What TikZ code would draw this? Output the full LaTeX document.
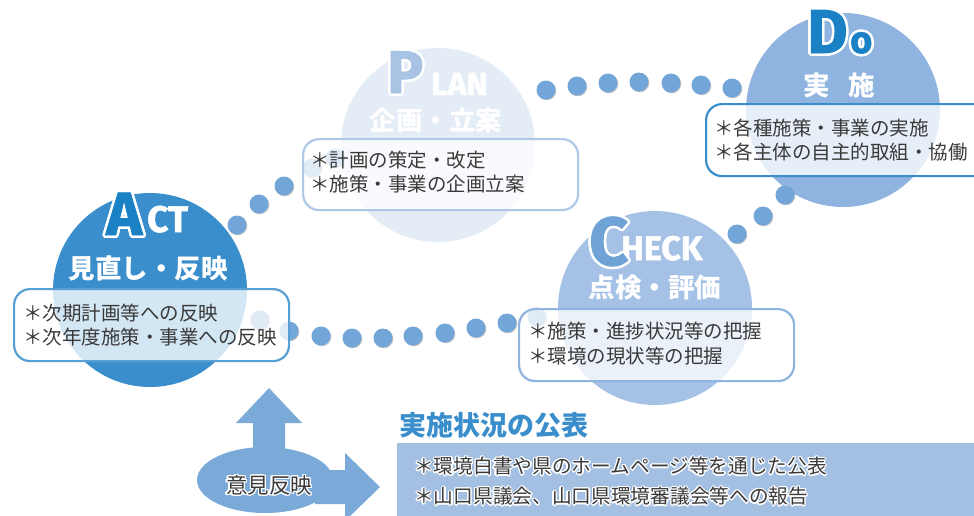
\documentclass[tikz,border=0pt]{standalone}
\usepackage{fontspec}
\usepackage{contour}
\usetikzlibrary{shapes.geometric,shadows}
\newfontfamily\jp{Noto Sans CJK JP}
\newfontfamily\heavy[BoldFeatures={FakeBold=1.5}]{Fira Sans}
\newfontfamily\heavylite{Fira Sans}
\contournumber{16}
\definecolor{actblue}{HTML}{3A8ECC}
\definecolor{letterblue}{HTML}{1A82C4}
\definecolor{doblue}{HTML}{8FB4E0}
\definecolor{checkblue}{HTML}{A5C2E6}
\definecolor{planlight}{HTML}{E4ECF6}
\definecolor{planletter}{HTML}{A9C3E5}
\definecolor{planborder}{HTML}{AFC8E8}
\definecolor{dotblue}{HTML}{72A6D8}
\definecolor{arrowblue}{HTML}{7BAAD9}
\definecolor{checkletter}{HTML}{6FA3D6}
\definecolor{pubblue}{HTML}{A3C0E3}
\definecolor{textgray}{HTML}{3A3A3A}
\begin{document}
\begin{tikzpicture}[x=1pt,y=-1pt,
  phase/.style={circle, minimum size=194pt, inner sep=0pt, draw=none},
  infobox/.style={rectangle, rounded corners=16pt, line width=2.2pt, fill=white, fill opacity=0.78, inner sep=0pt, anchor=north west},
  boxtext/.style={anchor=west, align=left, inner sep=0pt, text=textgray, font=\jp\fontsize{19.5}{24.5}\selectfont},
  phasetitle/.style={inner sep=0pt, text=white, font=\jp\bfseries\fontsize{26.5}{27}\selectfont},
  bigletter/.style={anchor=base west, inner sep=0pt},
  smallletter/.style={anchor=base west, inner sep=0pt, text=white},
  dotnode/.style={circle, fill=dotblue, minimum size=19pt, inner sep=0pt,
     drop shadow={shadow xshift=0.8pt, shadow yshift=-0.8pt, opacity=0.45, fill=gray}},
  arrowshape/.style={fill=arrowblue, draw=none},
]
\useasboundingbox (0,0) rectangle (974,515);
\clip (0,0) rectangle (974,515);
\fill[white] (0,0) rectangle (974,515);

% phase circles
\node[phase, fill=planlight] (plan) at (438,145) {};
\node[phase, fill=doblue] (do) at (843,110) {};
\node[phase, fill=actblue] (act) at (150,290) {};
\node[phase, fill=checkblue] (check) at (655,308) {};

% dotted cycle
\foreach \p [count=\i] in {(237,225),(259,204),(284,186),(312,168),(335,158)}
  \node[dotnode] (ap\i) at \p {};
\foreach \p [count=\i] in {(546,90),(577,86),(608,83),(639,82),(671,83),(701,85),(732,88)}
  \node[dotnode] (pd\i) at \p {};
\foreach \p [count=\i] in {(785,195),(763,216),(737,234)}
  \node[dotnode] (dc\i) at \p {};
\foreach \p [count=\i] in {(537,317),(507,323),(476,328),(445,333),(413,336),(383,338),(352,338),(321,336),(289,331),(260,320)}
  \node[dotnode] (ca\i) at \p {};

% big letters
\contourlength{2.5pt}
\node[smallletter, font=\heavy\bfseries\fontsize{32}{32}\selectfont] (planLAN) at (431,95) {LAN};
\node[bigletter] (planP) at (387,93) {\contour{white}{\color{planletter}\heavy\bfseries\fontsize{60}{60}\selectfont P}};
\node[bigletter] (doD) at (807,53) {\contour{white}{\color{letterblue}\heavy\bfseries\fontsize{62}{62}\selectfont D}};
\node[bigletter] (doO) at (850,53) {\contour{white}{\color{letterblue}\heavy\bfseries\fontsize{38}{38}\selectfont o}};
\node[smallletter, font=\heavy\bfseries\fontsize{37}{37}\selectfont] (actCT) at (147,232) {CT};
\node[bigletter] (actA) at (106,235) {\contour{white}{\color{letterblue}\heavy\bfseries\fontsize{61}{61}\selectfont A}};
\node[smallletter, font=\heavy\bfseries\fontsize{34}{34}\selectfont] (checkHECK) at (621,260) {HECK};
\node[bigletter] (checkC) at (589,265) {\contour{white}{\color{checkletter}\heavy\bfseries\fontsize{68}{68}\selectfont C}};

% phase titles
\node[phasetitle] (plantitle) at (436,120) {企画・立案};
\node[phasetitle] (dotitle) at (839,85) {実\hspace{0.7em}施};
\node[phasetitle] (acttitle) at (148,268) {見直し・反映};
\node[phasetitle] (checktitle) at (655,288) {点検・評価};

% info boxes
\node[infobox, draw=planborder, minimum width=275pt, minimum height=71pt] (planbox) at (302,138) {};
\node[infobox, draw=actblue, minimum width=290pt, minimum height=72pt] (dobox) at (705,103) {};
\node[infobox, draw=actblue!85, minimum width=275pt, minimum height=72pt] (actbox) at (13,288) {};
\node[infobox, draw=doblue, minimum width=275pt, minimum height=72pt] (checkbox) at (518,308) {};

\node[boxtext] (plantext) at (310,172) {＊計画の策定・改定\\＊施策・事業の企画立案};
\node[boxtext] (dotext) at (714,140) {＊各種施策・事業の実施\\＊各主体の自主的取組・協働};
\node[boxtext] (acttext) at (23,325) {＊次期計画等への反映\\＊次年度施策・事業への反映};
\node[boxtext] (checktext) at (528,343.5) {＊施策・進捗状況等の把握\\＊環境の現状等の把握};

% feedback arrows
\fill[arrowshape] (253,462) -- (253,423) -- (236,423) -- (269,388) -- (302,423) -- (285,423) -- (285,462) -- cycle;
\fill[arrowshape] (315,470) -- (345,470) -- (345,453) -- (380,487) -- (345,521) -- (345,504) -- (315,504) -- cycle;
\node[ellipse, fill=arrowblue, minimum width=136pt, minimum height=66pt, inner sep=0pt] (feedback) at (265,480) {};
\contournumber{12}
\contourlength{1.3pt}
\node[inner sep=0pt, font=\jp\fontsize{21.5}{21.5}\selectfont] (feedbacktext) at (269,486) {\contour{white}{\color{textgray}意見反映}};

% publication
\node[anchor=west, inner sep=0pt, text=actblue, font=\jp\bfseries\fontsize{27}{27}\selectfont] (pubtitle) at (399,425) {実施状況の公表};
\node[rectangle, fill=pubblue, anchor=north west, minimum width=590pt, minimum height=80pt, inner sep=0pt] (pubbox) at (397,443) {};
\node[anchor=west, inner sep=0pt, font=\jp\fontsize{19.7}{19.7}\selectfont] (publine1) at (414,467) {\contour{white}{\color{textgray}＊環境白書や県のホームページ等を通じた公表}};
\node[anchor=west, inner sep=0pt, font=\jp\fontsize{19.7}{19.7}\selectfont] (publine2) at (414,497) {\contour{white}{\color{textgray}＊山口県議会、山口県環境審議会等への報告}};
\end{tikzpicture}
\end{document}
